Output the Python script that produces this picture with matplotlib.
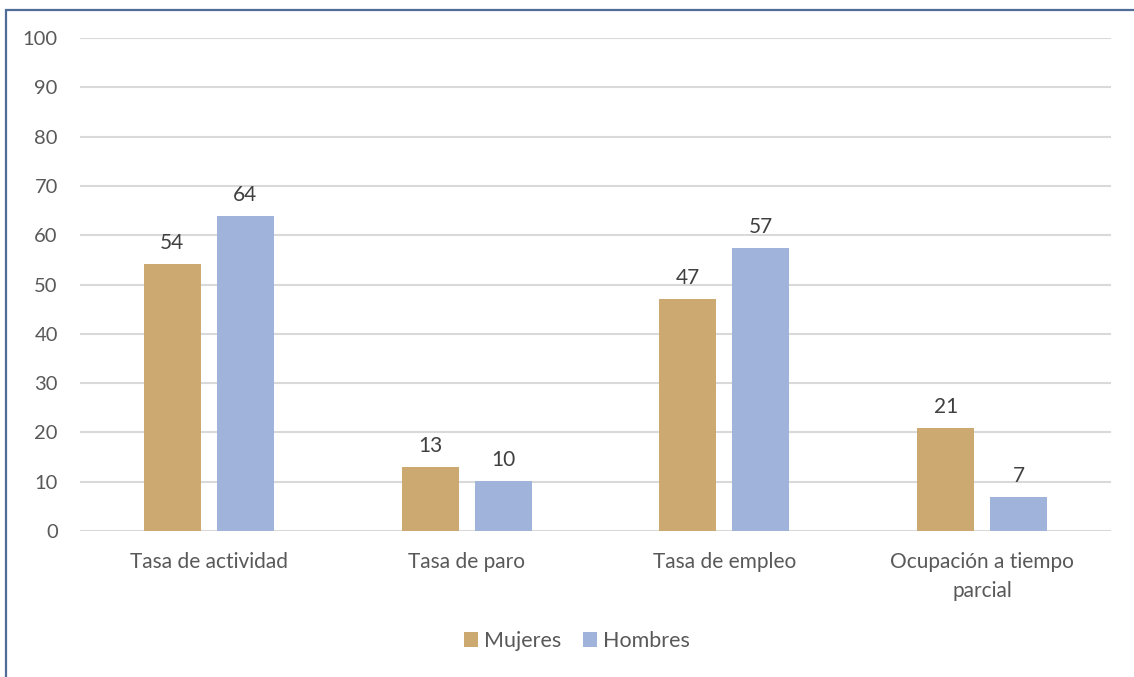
import matplotlib
matplotlib.use("Agg")
import matplotlib.pyplot as plt
from matplotlib.patches import Rectangle
import numpy as np

categories = ["Tasa de actividad", "Tasa de paro", "Tasa de empleo", "Ocupación a tiempo\nparcial"]
mujeres = [54.2, 13.0, 47.1, 20.9]
hombres = [63.9, 10.2, 57.4, 6.9]
mujeres_labels = ["54", "13", "47", "21"]
hombres_labels = ["64", "10", "57", "7"]
yticks = [0, 10, 20, 30, 40, 50, 60, 70, 80, 90, 100]

plt.rcParams['font.family'] = ['Lato', 'DejaVu Sans']
txt = '#595959'
c_m = '#CDA972'
c_h = '#A0B3DA'

fig = plt.figure(figsize=(11.34, 6.77), dpi=100)
ax = fig.add_axes([80/1134, 1-531/677, (1111-80)/1134, (531-38)/677])

x = np.arange(len(categories))
w = 0.221
off = 0.1416
b1 = ax.bar(x - off, mujeres, w, color=c_m, label='Mujeres', zorder=3)
b2 = ax.bar(x + off, hombres, w, color=c_h, label='Hombres', zorder=3)

for bars, labs in ((b1, mujeres_labels), (b2, hombres_labels)):
    for r, l in zip(bars, labs):
        ax.annotate(l, (r.get_x() + r.get_width()/2, r.get_height()),
                    xytext=(0, 8), textcoords='offset points',
                    ha='center', va='bottom', fontsize=15, color='#404040')

ax.set_xlim(-0.5, len(categories) - 0.5)
ax.set_ylim(0, 100)
ax.set_yticks(yticks)
ax.set_yticklabels([str(v) for v in yticks], fontsize=14.5, color=txt)
ax.set_xticks(x)
ax.set_xticklabels(categories, fontsize=15, color=txt, linespacing=1.55)
ax.tick_params(axis='both', length=0)
ax.tick_params(axis='y', pad=16)
ax.tick_params(axis='x', pad=15)
ax.grid(axis='y', color='#D9D9D9', linewidth=1.5, zorder=0)
for s in ax.spines.values():
    s.set_visible(False)

leg = fig.legend(handles=[b1, b2], labels=['Mujeres', 'Hombres'], loc='center',
                 bbox_to_anchor=(577/1134, 1-641/677), ncol=2, frameon=False,
                 fontsize=15.5, handlelength=0.65, handleheight=0.65,
                 handletextpad=0.3, columnspacing=1.0)
for t in leg.get_texts():
    t.set_color(txt)

fig.patches.append(Rectangle((5.5/1134, -0.1), 1.2, 1.1 - 9.5/677,
                             transform=fig.transFigure, fill=False,
                             edgecolor='#4F6D96', linewidth=1.6))

fig.savefig('out.png', dpi=100)
